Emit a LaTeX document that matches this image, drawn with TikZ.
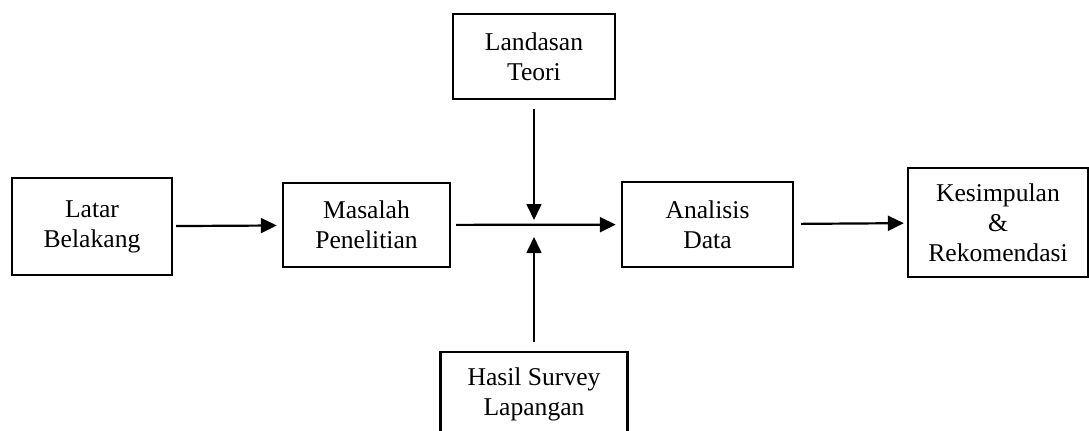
\documentclass[tikz,border=0pt]{standalone}
\usepackage{fontspec}
\setmainfont{Liberation Serif}
\usepackage{tikz}
\usetikzlibrary{arrows.meta}

\tikzset{
  box/.style={draw, line width=1.2pt, align=center, inner sep=0pt,
              font=\fontsize{12.8}{15}\selectfont},
}

\begin{document}
\begin{tikzpicture}[x=0.5pt,y=-0.5pt,->,>={Triangle[length=8pt,width=7.5pt]},
            line width=1.1pt]
          \useasboundingbox (0,0) rectangle (1089,430);

          \node[box, minimum width=80pt, minimum height=48.5pt] (latar) at (92,226.5) {Latar\\Belakang};
          \node[box, minimum width=83.5pt, minimum height=42pt] (masalah) at (366.5,225) {Masalah\\Penelitian};
          \node[box, minimum width=85.5pt, minimum height=42.5pt] (analisis) at (707.5,224.5) {Analisis\\Data};
          \node[box, minimum width=90pt, minimum height=54.5pt] (kesimpulan) at (998,222.5) {Kesimpulan\\\&\\Rekomendasi};
          \node[box, minimum width=81pt, minimum height=42.5pt] (landasan) at (534,56.5) {Landasan\\Teori};
          \node[box, minimum width=93.5pt, minimum height=42.5pt] (hasil) at (534,394.5) {Hasil Survey\\Lapangan};

          \coordinate (jtop) at (534,220);
          \coordinate (jbot) at (534,237);

          \path (latar)    edge [shorten <=1.5pt, shorten >=2.5pt] (masalah)
                (masalah)  edge [shorten <=2.5pt, shorten >=2.5pt] (analisis)
                (analisis) edge [shorten <=3.5pt, shorten >=1.5pt] (kesimpulan);

          \path[line width=0.8pt]
                (landasan) edge [shorten <=4.5pt] (jtop)
                (hasil)    edge [shorten <=4.5pt] (jbot);
        \end{tikzpicture}
\end{document}
